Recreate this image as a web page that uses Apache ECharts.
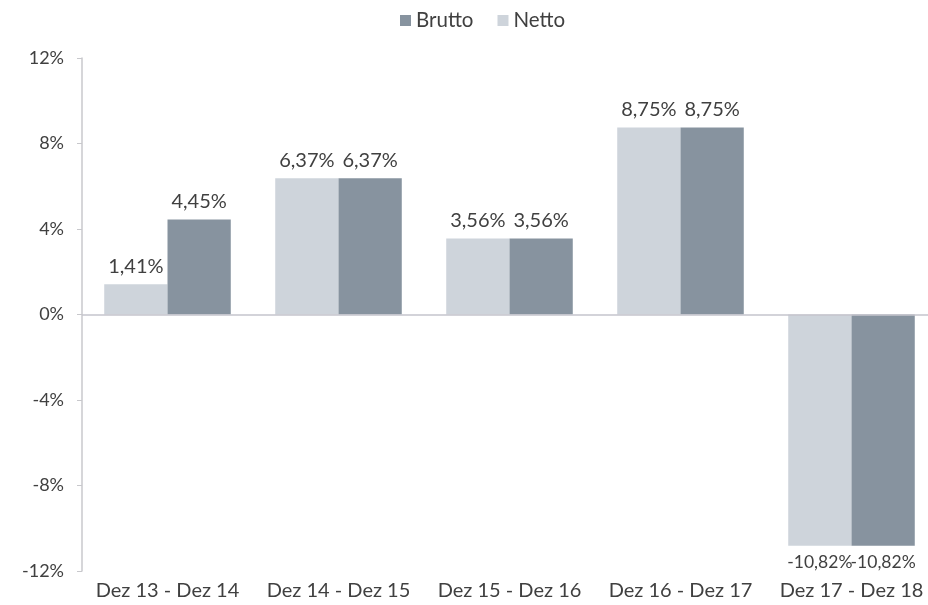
<!DOCTYPE html>
<html><head><meta charset="utf-8">
<script src="https://cdn.jsdelivr.net/npm/echarts@6/dist/echarts.min.js"></script>
<style>html,body{margin:0;padding:0;background:#fff}#c{width:928px;height:605px}</style>
</head><body><div id="c"></div>
<script>
const categories = ['Dez 13 - Dez 14','Dez 14 - Dez 15','Dez 15 - Dez 16','Dez 16 - Dez 17','Dez 17 - Dez 18'];
const netto = [1.41, 6.37, 3.56, 8.75, -10.82];
const brutto = [4.45, 6.37, 3.56, 8.75, -10.82];
const yTicks = [-12, -8, -4, 0, 4, 8, 12];

const fmt = v => v.toFixed(2).replace('.', ',') + '%';
const font = 'Lato, "Open Sans", sans-serif';
const txt = '#404040';
function mk(arr){
  return arr.map(v => ({value: v, label: v < 0 ? {position: 'bottom', fontSize: 17.5} : {position: 'top'}}));
}
const chart = echarts.init(document.getElementById('c'));
chart.setOption({
  animation: false,
  textStyle: {fontFamily: font},
  legend: {
    data: ['Brutto','Netto'], top: 10, left: 400, padding: 0,
    itemWidth: 11, itemHeight: 11, itemGap: 24, icon: 'rect',
    textStyle: {fontFamily: font, fontSize: 20.5, color: txt}
  },
  grid: {left: 82, width: 855, top: 58, bottom: 34, outerBoundsMode: 'none', containLabel: false},
  xAxis: {
    type: 'category', data: categories,
    axisLine: {show: false, onZero: false}, axisTick: {show: false},
    axisLabel: {fontFamily: font, fontSize: 20, color: txt, margin: 10, interval: 0, hideOverlap: false}
  },
  yAxis: {
    type: 'value', min: yTicks[0], max: yTicks[yTicks.length-1], interval: 4,
    axisLine: {show: true, lineStyle: {color: '#c8c8cc', width: 1.5}},
    axisTick: {show: true, length: 5, lineStyle: {color: '#c8c8cc'}},
    splitLine: {show: false},
    axisLabel: {fontFamily: font, fontSize: 18, color: txt, margin: 18, formatter: v => v + '%'}
  },
  series: [
    {
      name: 'Netto', type: 'bar', data: mk(netto), barGap: '0%', barCategoryGap: '26%',
      itemStyle: {color: '#ced4db'},
      label: {show: true, formatter: p => fmt(p.value), fontFamily: font, fontSize: 20, color: txt, distance: 8},
      markLine: {silent: true, symbol: 'none', label: {show: false},
        lineStyle: {color: '#c4c4cc', width: 1.5, type: 'solid'}, data: [{yAxis: 0}]}
    },
    {
      name: 'Brutto', type: 'bar', data: mk(brutto),
      itemStyle: {color: '#87939f'},
      label: {show: true, formatter: p => fmt(p.value), fontFamily: font, fontSize: 20, color: txt, distance: 8}
    }
  ]
});
</script></body></html>
